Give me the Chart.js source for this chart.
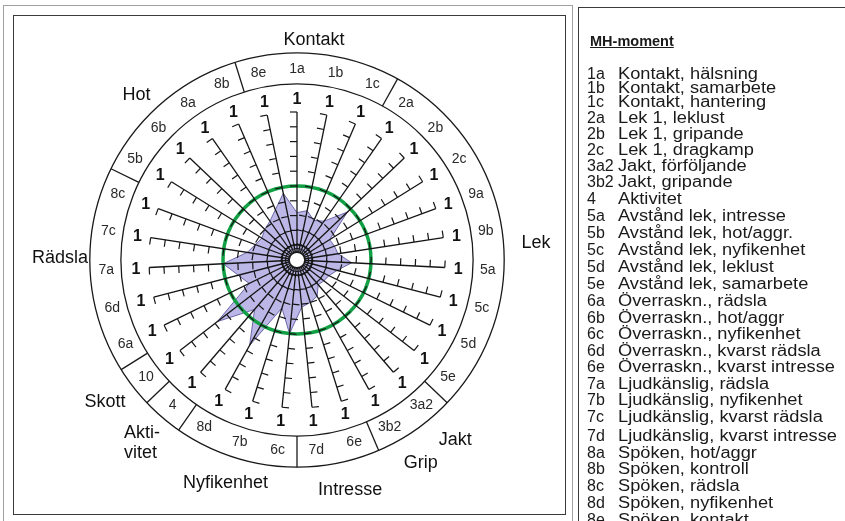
<!DOCTYPE html>
<html><head><meta charset="utf-8">
<script src="https://cdn.jsdelivr.net/npm/chart.js@4.4.1/dist/chart.umd.min.js"></script>
<style>
html,body{margin:0;padding:0;background:#fff;width:845px;height:521px;overflow:hidden;font-family:"Liberation Sans",Arial,sans-serif;}
#wrap{position:relative;width:845px;height:521px;overflow:hidden;}
.box{position:absolute;box-sizing:border-box;}
#outerL{left:3px;top:5px;width:570px;height:530px;border:1px solid #a0a0a0;}
#innerL{left:13px;top:15px;width:553px;height:500px;border:1.5px solid #3a3a3a;}
#right{left:578px;top:7px;width:290px;height:530px;border:1.5px solid #3a3a3a;}
canvas#c{position:absolute;left:0;top:0;}
#legend{position:absolute;left:0;top:0;width:845px;height:521px;color:#1a1a1a;}
.lrow{position:absolute;font-size:16px;line-height:16px;white-space:nowrap;transform-origin:0 50%;}
#title{position:absolute;left:590px;top:33px;font-size:14.5px;font-weight:bold;text-decoration:underline;}
</style></head>
<body><div id="wrap">
<div class="box" id="outerL"></div><div class="box" id="innerL"></div><div class="box" id="right"></div>
<canvas id="c" width="594" height="520"></canvas>
<div id="legend"><div id="title">MH-moment</div></div>
</div>
<script>
// ---- data ----
const codes = ['1a','1b','1c','2a','2b','2c','9a','9b','5a','5c','5d','5e','3a2','3b2','6e','7d','6c','7b','8d','4','10','6a','6d','7a','7c','8c','5b','6b','8a','8b','8e'];
const values = [3.2,3.4,2.9,3.2,4.7,2.6,2.7,2.8,3.7,2.8,2.4,2.3,2.2,2.8,3.0,3.2,5.0,3.4,6.6,4.4,6.8,3.6,4.1,5.0,3.4,3.0,2.8,3.0,3.2,3.7,4.6];
const endLabels = ['1','1','1','1','1','1','1','1','1','1','1','1','1','1','1','1','1','1','1','1','1','1','1','1','1','1','1','1','1','1','1'];
const scaleMax = 10;
const referenceLevel = 5;
const groupNames = ['Kontakt','Lek','Jakt','Grip','Intresse','Nyfikenhet','Akti-\nvitet','Skott','Rädsla','Hot'];
const dividerAfter = ['8b','1c','5e','3b2','7d','8d','4','10','8c'];
const legendCodes = ['1a','1b','1c','2a','2b','2c','3a2','3b2','4','5a','5b','5c','5d','5e','6a','6b','6c','6d','6e','7a','7b','7c','7d','8a','8b','8c','8d','8e'];
const legendTexts = ['Kontakt, hälsning','Kontakt, samarbete','Kontakt, hantering','Lek 1, leklust','Lek 1, gripande','Lek 1, dragkamp','Jakt, förföljande','Jakt, gripande','Aktivitet','Avstånd lek, intresse','Avstånd lek, hot/aggr.','Avstånd lek, nyfikenhet','Avstånd lek, leklust','Avstånd lek, samarbete','Överraskn., rädsla','Överraskn., hot/aggr','Överraskn., nyfikenhet','Överraskn., kvarst rädsla','Överraskn., kvarst intresse','Ljudkänslig, rädsla','Ljudkänslig, nyfikenhet','Ljudkänslig, kvarst rädsla','Ljudkänslig, kvarst intresse','Spöken, hot/aggr','Spöken, kontroll','Spöken, rädsla','Spöken, nyfikenhet','Spöken, kontakt'];

// ---- layout (positions in scale units / spoke index units) ----
const RING_IN = 11.9, RING_OUT = 14.0, CODE_R = 12.9, END_R = 10.9, TICK = 7;
const groupPlace = [[0.38,14.91],[7.40,16.19],[11.94,16.18],[12.80,16.08],[14.38,15.95],[17.03,15.82],[18.97,16.2],[20.11,16.14],[23.29,16.01],[27.19,15.55]];
const legendRowY = [74,88,102,118,134,150,166,182,199,216,233,250,267,284,301,318,334,351,367,384,400,417,436,453,469,486,503,520];

const decor = {
  id:'decor',
  afterDraw(chart){
    const s = chart.scales.r, ctx = chart.ctx;
    const d = v => s.getDistanceFromCenterForValue(v);
    const pos = (i, v) => s.getPointPosition(i, d(v));
    const n = codes.length;
    ctx.save();
    ctx.strokeStyle = '#151515'; ctx.lineWidth = 1.2;
    for (let i = 0; i < n; i++) {
      const a = s.getIndexAngle(i) - Math.PI/2;
      const px = Math.sin(a), py = -Math.cos(a);
      for (let v = 1; v <= scaleMax; v++) {
        const p = pos(i, v);
        ctx.beginPath(); ctx.moveTo(p.x, p.y); ctx.lineTo(p.x + px*TICK, p.y + py*TICK); ctx.stroke();
      }
    }
    ctx.lineWidth = 1.3; ctx.strokeStyle = '#1a1a1a';
    [RING_IN, RING_OUT].forEach(v => { ctx.beginPath(); ctx.arc(s.xCenter, s.yCenter, d(v), 0, Math.PI*2); ctx.stroke(); });
    dividerAfter.forEach(c => {
      const k = codes.indexOf(c) + 0.5;
      const a = pos(k, RING_IN), b = pos(k, RING_OUT);
      ctx.beginPath(); ctx.moveTo(a.x, a.y); ctx.lineTo(b.x, b.y); ctx.stroke();
    });
    ctx.fillStyle = '#fff';
    ctx.beginPath(); ctx.arc(s.xCenter, s.yCenter, 8, 0, Math.PI*2); ctx.fill();
    ctx.lineWidth = 1.8;
    ctx.beginPath(); ctx.arc(s.xCenter, s.yCenter, 8, 0, Math.PI*2); ctx.stroke();
    ctx.lineWidth = 1.2;
    ctx.beginPath(); ctx.arc(s.xCenter, s.yCenter, 11.5, 0, Math.PI*2); ctx.stroke();
    ctx.textAlign = 'center'; ctx.textBaseline = 'middle';
    ctx.fillStyle = '#2a2a2a'; ctx.font = '14px "Liberation Sans", Arial, sans-serif';
    codes.forEach((c, i) => { const p = pos(i, CODE_R); ctx.fillText(c, p.x, p.y); });
    ctx.fillStyle = '#111'; ctx.font = 'bold 16px "Liberation Sans", Arial, sans-serif';
    endLabels.forEach((t, i) => { const p = pos(i, END_R); ctx.fillText(t, p.x, p.y + 1); });
    ctx.font = '18px "Liberation Sans", Arial, sans-serif'; ctx.fillStyle = '#111';
    groupNames.forEach((g, k) => {
      const p = pos(groupPlace[k][0], groupPlace[k][1]);
      const lines = g.split('\n');
      if (lines.length === 1) { ctx.fillText(g, p.x, p.y); }
      else {
        const w = Math.max(...lines.map(l => ctx.measureText(l).width));
        ctx.textAlign = 'left';
        lines.forEach((l, j) => ctx.fillText(l, p.x - w/2, p.y + (j - (lines.length-1)/2) * 20));
        ctx.textAlign = 'center';
      }
    });
    ctx.restore();
  }
};

new Chart(document.getElementById('c'), {
  type: 'radar',
  data: { labels: codes, datasets: [{ data: values, backgroundColor: '#bbb8e7', borderColor: 'rgba(95,90,160,0.9)', borderWidth: 1, pointRadius: 0, fill: true }] },
  options: {
    responsive: false, animation: false, devicePixelRatio: 1,
    layout: { padding: 112 },
    plugins: { legend: { display: false }, tooltip: { enabled: false } },
    scales: { r: {
      min: 0, max: scaleMax, startAngle: 0,
      ticks: { display: false, stepSize: 1 },
      pointLabels: { display: false },
      angleLines: { display: true, color: '#151515', lineWidth: 1.3 },
      grid: { circular: true, z: 1,
        color: c => (c.tick && c.tick.value === referenceLevel) ? '#12a045' : 'rgba(0,0,0,0)',
        lineWidth: c => (c.tick && c.tick.value === referenceLevel) ? 3.5 : 0 }
    } }
  },
  plugins: [decor]
});

const lg = document.getElementById('legend');
legendCodes.forEach((c, i) => {
  const y = legendRowY[i] - 8;
  const a = document.createElement('div'); a.className = 'lrow'; a.style.left = '587px'; a.style.top = y + 'px'; a.textContent = c; lg.appendChild(a);
  const b = document.createElement('div'); b.className = 'lrow'; b.style.left = '618px'; b.style.top = y + 'px'; b.style.transform = 'scaleX(1.14)'; b.textContent = legendTexts[i]; lg.appendChild(b);
});
</script>
</body></html>
